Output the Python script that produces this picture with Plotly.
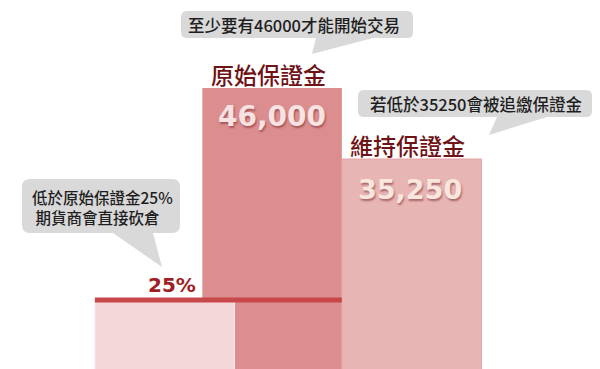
import plotly.graph_objects as go

# ---- data ----
bar_titles = ["原始保證金", "維持保證金"]
bar_values = [46000, 35250]
bar_value_labels = ["46,000", "35,250"]
cutoff_label = "25%"
cutoff_value = 13900          # drawn height of the 25% level in the picture
callout_top = "至少要有46000才能開始交易"
callout_right = "若低於35250會被追繳保證金"
callout_left = ["低於原始保證金25%", "期貨商會直接砍倉"]

W, H = 600, 369
CJK = "Noto Sans CJK TC"
NUMF = "DejaVu Sans"

# bar centres on a numeric axis (positions, not data)
pos_cut, pos_orig, pos_maint = 0.23, 1.0, 2.0
bw = 1.0

fig = go.Figure()
fig.add_bar(x=[pos_orig], y=[bar_values[0]], width=bw,
            marker=dict(color="#dc8e8f", line=dict(width=0)), hoverinfo="skip")
fig.add_bar(x=[pos_maint], y=[bar_values[1]], width=bw,
            marker=dict(color="#e8b5b5", line=dict(color="#e3a3a4", width=1)), hoverinfo="skip")
fig.add_bar(x=[pos_cut], y=[cutoff_value], width=bw,
            marker=dict(color="#f4d7d8", line=dict(color="#fbefef", width=1)), hoverinfo="skip")

shapes = []
# 25% red line across first two bars
shapes.append(dict(type="line", xref="x", yref="y",
                   x0=pos_cut - bw / 2, x1=pos_orig + bw / 2,
                   y0=cutoff_value, y1=cutoff_value,
                   line=dict(color="#c8474b", width=5), layer="above"))


def P(x, y):
    return f"{x / W:.5f},{1 - y / H:.5f}"


def rrect(x0, y0, x1, y1, r=6):
    return ("M " + P(x0 + r, y0) + " L " + P(x1 - r, y0) + " Q " + P(x1, y0) + " " + P(x1, y0 + r) +
            " L " + P(x1, y1 - r) + " Q " + P(x1, y1) + " " + P(x1 - r, y1) +
            " L " + P(x0 + r, y1) + " Q " + P(x0, y1) + " " + P(x0, y1 - r) +
            " L " + P(x0, y0 + r) + " Q " + P(x0, y0) + " " + P(x0 + r, y0) + " Z")


def tri(a, b, c):
    return "M " + P(*a) + " L " + P(*b) + " L " + P(*c) + " Z"


GRAY = "#d9d9d9"
for path in [rrect(181, 11, 413, 38), tri((316, 38), (373, 38), (312, 54)),
             rrect(358, 90, 592, 117), tri((497, 117), (547, 117), (489, 135)),
             rrect(22, 179, 180, 233, 8), tri((113, 233), (153, 233), (162, 267))]:
    shapes.append(dict(type="path", xref="paper", yref="paper", path=path,
                       fillcolor=GRAY, line=dict(width=0), layer="above"))

ann = []


def pa(text, x, y, size, color, family=CJK, xanchor="center", align="center", **kw):
    ann.append(dict(text=text, xref="paper", yref="paper", x=x / W, y=1 - y / H,
                    xanchor=xanchor, yanchor="middle", showarrow=False, align=align,
                    font=dict(family=family, size=size, color=color, **kw)))


pa(callout_top, 294, 25, 16.5, "#1e1e1e", weight=500)
pa(callout_right, 476, 103.5, 16.5, "#1e1e1e", weight=500)
pa(callout_left[0] + "<br>&nbsp;" + callout_left[1], 30, 206.5, 15.5, "#1e1e1e",
   xanchor="left", align="left", weight=500)

# titles above the bars
for p, title, val, xs in [(pos_orig, bar_titles[0], bar_values[0], -4),
                          (pos_maint, bar_titles[1], bar_values[1], -4)]:
    ann.append(dict(text=title, x=p, y=val, xref="x", yref="y", showarrow=False,
                    xanchor="center", yanchor="middle", xshift=xs, yshift=14,
                    font=dict(family=CJK, size=23, color="#6e1216", weight=500)))

# value labels inside bars
shadow = "1px 2px 2px rgba(120,40,45,0.55)"
for p, lab, val, xs, ys, size, col in [(pos_orig, bar_value_labels[0], bar_values[0], 0, -28, 28, "#f8e2e2"),
                                       (pos_maint, bar_value_labels[1], bar_values[1], -2, -30, 27, "#f9e6de")]:
    ann.append(dict(text=lab, x=p, y=val, xref="x", yref="y", showarrow=False,
                    xanchor="center", yanchor="middle", xshift=xs, yshift=ys,
                    font=dict(family=NUMF, size=size, color=col, weight=900, shadow=shadow)))

ann.append(dict(text=cutoff_label, x=pos_cut, y=cutoff_value, xref="x", yref="y", showarrow=False,
                xanchor="center", yanchor="middle", xshift=7, yshift=15,
                font=dict(family=NUMF, size=20, color="#a01d23", weight=900)))

fig.update_layout(
    width=W, height=H, margin=dict(l=0, r=0, t=0, b=0),
    barmode="overlay", showlegend=False,
    paper_bgcolor="white", plot_bgcolor="white",
    xaxis=dict(visible=False, range=[-0.95, 3.35], fixedrange=True),
    yaxis=dict(visible=False, range=[3453, 59324], fixedrange=True),
    shapes=shapes, annotations=ann,
)

fig.write_html("out.html", config={"displayModeBar": False})
